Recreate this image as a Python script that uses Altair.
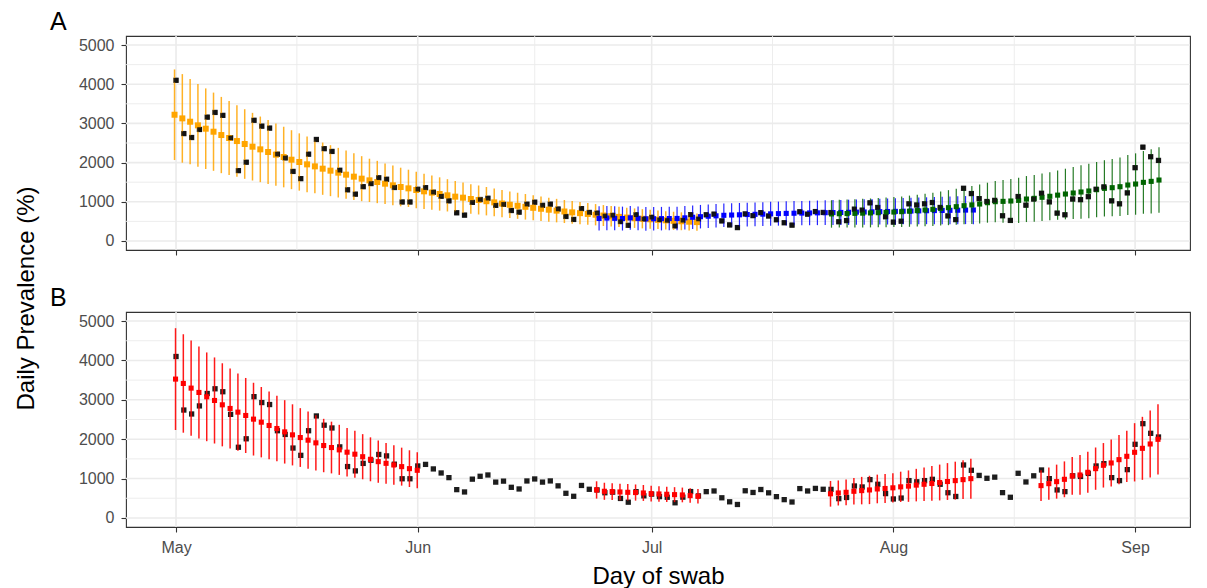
import altair as alt
import pandas as pd

START = pd.Timestamp("2020-05-01")

# ---- observed daily prevalence (1 May .. 4 Sep) ----
observed = [4100, 2740, 2640, 2845, 3160, 3280, 3205, 2630, 1795, 2010,
            3080, 2930, 2880, 2215, 2120, 1775, 1590, 2215, 2590, 2355,
            2285, 1805, 1305, 1195, 1385, 1465, 1612, 1576, 1365, 995,
            995, 1320, 1360, 1245, 1142, 1024, 719, 660, 985, 1058,
            1091, 910, 935, 778, 736, 939, 990, 910, 940, 815,
            626, 550, 825, 728, 711, 640, 655, 495, 400, 668,
            562, 605, 541, 525, 385, 528, 670, 560, 668, 685,
            512, 410, 342, 690, 647, 722, 638, 541, 465, 405,
            745, 685, 750, 728, 725, 490, 520, 812, 787, 973,
            855, 618, 482, 505, 948, 918, 948, 981, 855, 640,
            545, 1345, 1210, 1080, 1007, 1036, 643, 525, 1134, 914,
            1070, 1218, 998, 711, 668, 1070, 1054, 1130, 1320, 1379,
            1024, 948, 1227, 1870, 2394, 2149, 2056]

# ---- panel A fits ----
orange_start = 0
orange_mean = [3221, 3128, 3043, 2950, 2865, 2788, 2703, 2627, 2550, 2474,
               2406, 2338, 2270, 2202, 2142, 2074, 2015, 1955, 1904, 1845,
               1794, 1743, 1692, 1641, 1590, 1547, 1505, 1462, 1420, 1377,
               1343, 1301, 1267, 1233, 1199, 1165, 1131, 1105, 1071, 1046,
               1015, 985, 955, 925, 898, 872, 846, 822, 798, 775,
               752, 730, 710, 690, 670, 650, 632, 615, 598, 582,
               567, 553, 540, 527, 515, 503, 492, 482]
orange_half = [1156, 1130, 1088, 1058, 1028, 998, 973, 943, 914, 888,
               863, 837, 816, 794, 773, 752, 731, 710, 688, 667,
               650, 633, 616, 595, 574, 552, 540, 518, 506, 493,
               476, 463, 450, 437, 425, 412, 400, 387, 378, 370,
               362, 355, 348, 340, 333, 326, 320, 313, 306, 300,
               294, 288, 282, 277, 272, 267, 262, 257, 253, 249,
               245, 241, 237, 234, 231, 228, 225, 222]

blue_start = 54
blue_mean = [575, 585, 578, 572, 590, 578, 565, 568, 570, 572,
             575, 590, 605, 620, 632, 642, 655, 662, 668, 675,
             680, 685, 692, 698, 704, 708, 712, 715, 718, 722,
             725, 728, 732, 736, 740, 744, 748, 752, 756, 760,
             764, 768, 772, 776, 779, 782, 785, 788, 790]
blue_half = [310, 308, 306, 305, 304, 303, 302, 301, 300, 300,
             300, 300, 300, 300, 300, 300, 300, 301, 302, 303,
             304, 305, 306, 307, 308, 309, 310, 312, 314, 316,
             318, 320, 322, 324, 326, 328, 330, 332, 334, 336,
             338, 340, 343, 346, 349, 352, 355, 358, 361]

green_start = 84
green_mean = [690, 695, 700, 705, 710, 716, 722, 730, 738, 748,
              760, 775, 790, 808, 828, 850, 875, 900, 920, 943,
              977, 1003, 1011, 1020, 1037, 1070, 1088, 1115, 1140, 1170,
              1198, 1224, 1250, 1275, 1309, 1343, 1360, 1385, 1428, 1453,
              1496, 1521, 1555]
green_half = [350, 354, 358, 361, 365, 369, 374, 378, 383, 390,
              398, 406, 415, 425, 436, 447, 459, 471, 484, 497,
              510, 527, 545, 562, 578, 587, 596, 604, 612, 629,
              646, 663, 680, 693, 706, 718, 731, 748, 765, 783,
              800, 817, 834]

# ---- panel B fits (red) ----
red1_start = 0
red1_mean = [3526, 3415, 3297, 3187, 3076, 2983, 2873, 2780, 2687, 2602,
             2509, 2432, 2348, 2271, 2186, 2110, 2042, 1975, 1907, 1839,
             1788, 1729, 1670, 1619, 1555, 1489, 1430, 1387, 1345, 1303,
             1252, 1210]
red1_half = [1293, 1250, 1212, 1170, 1127, 1093, 1055, 1017, 983, 953,
             924, 894, 860, 830, 805, 776, 746, 725, 700, 678,
             657, 636, 615, 598, 573, 558, 537, 517, 503, 482,
             466, 457]
red2_start = 54
red2_mean = [711, 677, 668, 660, 651, 645, 634, 617, 609, 601, 592, 584, 567, 550]
red2_half = [220, 217, 214, 211, 208, 205, 202, 199, 196, 193, 190, 187, 184, 182]
red3_start = 84
red3_mean = [613, 634, 651, 677, 694, 711, 736, 748, 765, 790,
             808, 834, 855, 875, 900, 925, 948, 973, 998]
red3_half = [326, 318, 328, 338, 349, 360, 364, 368, 372, 385,
             399, 413, 427, 441, 455, 468, 481, 495, 508]
red4_start = 111
red4_mean = [821, 871, 922, 981, 1066, 1091, 1159, 1252, 1337, 1396,
             1480, 1565, 1667, 1768, 1878, 1997]
red4_half = [389, 410, 432, 455, 480, 505, 520, 537, 565, 595,
             625, 651, 740, 800, 850, 893]

month_ticks = ["2020-05-01", "2020-06-01", "2020-07-01", "2020-08-01", "2020-09-01"]
minor_x = ["2020-05-16T12:00:00Z", "2020-06-16T00:00:00Z",
           "2020-07-16T12:00:00Z", "2020-08-16T12:00:00Z"]
major_y = [0, 1000, 2000, 3000, 4000, 5000]
minor_y = [500, 1500, 2500, 3500, 4500]

FONT = "Liberation Sans"


def iso(day):
    return (START + pd.Timedelta(days=int(day))).strftime("%Y-%m-%dT00:00:00Z")


def fit_df(start, means, halves):
    return pd.DataFrame({
        "date": [iso(start + i) for i in range(len(means))],
        "mean": means,
        "lo": [m - h for m, h in zip(means, halves)],
        "hi": [m + h for m, h in zip(means, halves)],
    })


obs_df = pd.DataFrame({"date": [iso(i) for i in range(len(observed))],
                       "value": observed})

xscale = alt.Scale(type="utc",
                   domain=[alt.DateTime(year=2020, month=4, date=24, hours=14, utc=True),
                           alt.DateTime(year=2020, month=9, date=8, hours=1, utc=True)])
yscale = alt.Scale(domain=[-230, 5230], nice=False, zero=False)

tick_dates = [alt.DateTime(year=2020, month=int(t[5:7]), date=1, utc=True) for t in month_ticks]


def x_axis(panel):
    if panel == "A":
        return alt.Axis(values=tick_dates, labels=False, title=None, grid=False,
                        domain=False, ticks=True, tickSize=5, tickColor="#333333",
                        tickWidth=1.1)
    return alt.Axis(values=tick_dates, labelExpr="utcFormat(datum.value, '%b')",
                    title="Day of swab",
                    grid=False, domain=False, ticks=True, tickSize=5, tickColor="#333333",
                    tickWidth=1.1, labelFont=FONT, labelFontSize=16, labelColor="#4D4D4D",
                    labelPadding=7, titleFont=FONT, titleFontSize=24,
                    titleFontWeight="normal", titleColor="black", titlePadding=9)


def y_axis(panel):
    common = dict(values=major_y, format="d", grid=False, domain=False, tickSize=5,
                  tickColor="#333333", tickWidth=1.1, labelFont=FONT,
                  labelFontSize=16, labelColor="#4D4D4D", labelPadding=7)
    if panel == "A":
        return alt.Axis(title="Daily Prevalence (%)", titleFont=FONT, titleFontSize=24,
                        titleFontWeight="normal", titleColor="black",
                        titleX=-88, titleY=262, titleAngle=-90,
                        titleBaseline="bottom", titleAlign="center", **common)
    return alt.Axis(title=None, **common)


def grid_layers(panel):
    vmaj = alt.Chart(pd.DataFrame({"d": [t + "T00:00:00Z" for t in month_ticks]})).mark_rule(
        color="#EBEBEB", strokeWidth=1.6).encode(
        x=alt.X("d:T", scale=xscale, axis=x_axis(panel)))
    vmin = alt.Chart(pd.DataFrame({"d": minor_x})).mark_rule(
        color="#EBEBEB", strokeWidth=0.9).encode(
        x=alt.X("d:T", scale=xscale, axis=x_axis(panel)))
    hmaj = alt.Chart(pd.DataFrame({"v": major_y})).mark_rule(
        color="#EBEBEB", strokeWidth=1.6).encode(
        y=alt.Y("v:Q", scale=yscale, axis=y_axis(panel)))
    hmin = alt.Chart(pd.DataFrame({"v": minor_y})).mark_rule(
        color="#EBEBEB", strokeWidth=0.9).encode(
        y=alt.Y("v:Q", scale=yscale, axis=y_axis(panel)))
    return [hmin, vmin, hmaj, vmaj]


def fit_layers(df, color, panel, bar_w, sq_size, dx, op=0.85):
    bars = alt.Chart(df).mark_rule(color=color, strokeWidth=bar_w, opacity=op,
                                   xOffset=dx).encode(
        x=alt.X("date:T", scale=xscale, axis=x_axis(panel)),
        y=alt.Y("lo:Q", scale=yscale, axis=y_axis(panel)),
        y2="hi:Q")
    pts = alt.Chart(df).mark_square(color=color, size=sq_size, opacity=1,
                                    xOffset=dx).encode(
        x=alt.X("date:T", scale=xscale, axis=x_axis(panel)),
        y=alt.Y("mean:Q", scale=yscale, axis=y_axis(panel)))
    return [bars, pts]


def obs_layer(panel, size=28, op=0.95):
    return alt.Chart(obs_df).mark_square(color="#111111", size=size, opacity=op).encode(
        x=alt.X("date:T", scale=xscale, axis=x_axis(panel)),
        y=alt.Y("value:Q", scale=yscale, axis=y_axis(panel)))


title_kw = dict(anchor="start", frame="group", fontSize=25, font=FONT,
                fontWeight="normal", color="black", dx=-76, offset=0)

layers_a = grid_layers("A")
layers_a += [obs_layer("A")]
layers_a += fit_layers(fit_df(orange_start, orange_mean, orange_half), "#FFA500", "A", 1.5, 36, -1.5)
layers_a += fit_layers(fit_df(blue_start, blue_mean, blue_half), "#0000FF", "A", 1.2, 26, 2)
layers_a += fit_layers(fit_df(green_start, green_mean, green_half), "#006400", "A", 1.2, 26, 0.5)
layers_a += [obs_layer("A", size=20, op=0.9)]
panel_a = alt.layer(*layers_a).properties(
    width=1064, height=214, title=alt.TitleParams("A", **title_kw))

layers_b = grid_layers("B")
layers_b += [obs_layer("B")]
for s, m, h in [(red1_start, red1_mean, red1_half), (red2_start, red2_mean, red2_half),
                (red3_start, red3_mean, red3_half), (red4_start, red4_mean, red4_half)]:
    layers_b += fit_layers(fit_df(s, m, h), "#FF0000", "B", 1.5, 26, -0.5, op=0.9)
panel_b = alt.layer(*layers_b).properties(
    width=1064, height=215, title=alt.TitleParams("B", **title_kw))

chart = alt.vconcat(panel_a, panel_b, spacing=62, bounds="flush").properties(
    padding={"left": 5, "top": 1, "right": 5, "bottom": 5},
    background="white"
).configure_view(stroke="#333333", strokeWidth=1.1)

chart.save("out.html", embed_options={"renderer": "svg", "actions": False})
